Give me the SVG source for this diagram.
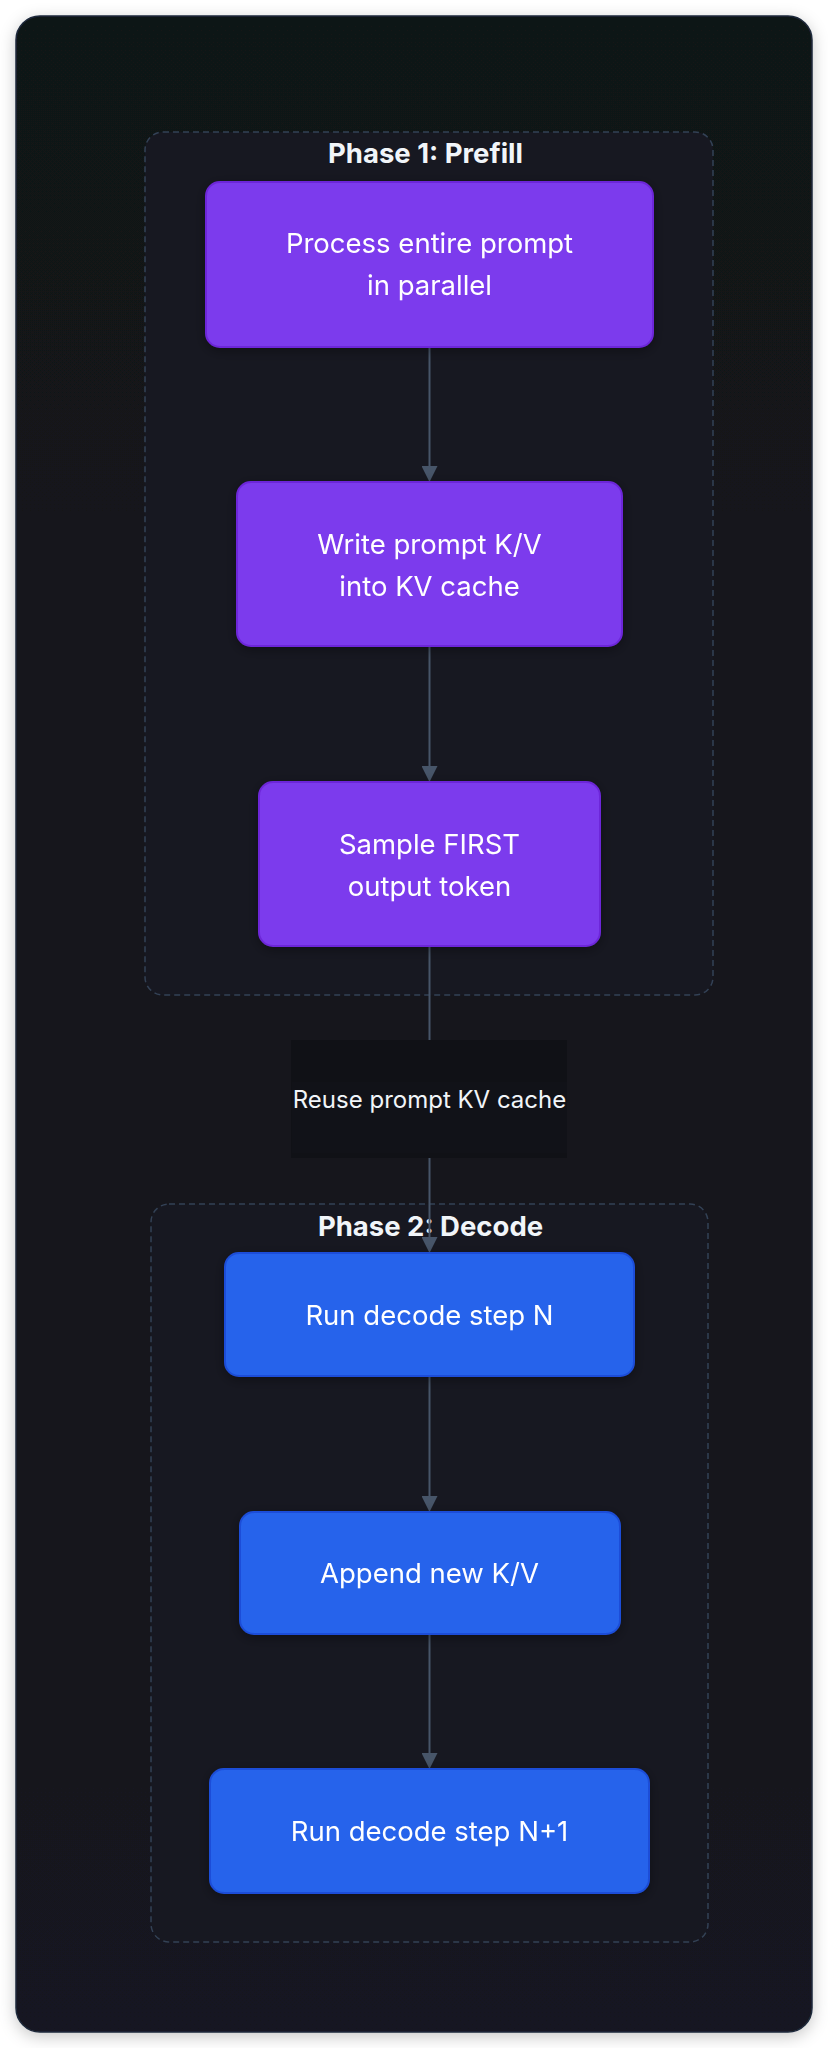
<svg xmlns="http://www.w3.org/2000/svg" width="828" height="2048" viewBox="0 0 828 2048">
  <style>
    .cluster { fill: #171821; stroke: #334155; stroke-width: 1.5; stroke-dasharray: 6 4; }
    .ctitle { font-family: Inter, "Liberation Sans", sans-serif; font-size: 27.5px; font-weight: 700; fill: #f1f5f9; text-anchor: middle; }
    .ntext { font-family: Inter, "Liberation Sans", sans-serif; font-size: 27.5px; font-weight: 400; fill: #ffffff; text-anchor: middle; }
    .purple { fill: #7c3aed; stroke: #6d28d9; stroke-width: 2; }
    .blue { fill: #2563eb; stroke: #1d4ed8; stroke-width: 2; }
    .edge { stroke: #475569; stroke-width: 2; fill: none; }
    .elabel { font-family: Inter, "Liberation Sans", sans-serif; font-size: 24px; fill: #f1f5f9; text-anchor: middle; }
  </style>
  <defs>
    <linearGradient id="cardGrad" x1="0" y1="0" x2="0" y2="1">
      <stop offset="0" stop-color="#111318"/>
      <stop offset="1" stop-color="#161720"/>
    </linearGradient>
    <filter id="cardShadow" x="-10%" y="-5%" width="120%" height="110%">
      <feDropShadow dx="0" dy="4" stdDeviation="8" flood-color="#000000" flood-opacity="0.22"/>
    </filter>
    <filter id="nodeShadow" x="-20%" y="-30%" width="140%" height="160%">
      <feDropShadow dx="0" dy="3" stdDeviation="6" flood-color="#000000" flood-opacity="0.35"/>
    </filter>
    <marker id="arrow" markerUnits="userSpaceOnUse" markerWidth="16" markerHeight="16" refX="2" refY="8" orient="auto">
      <path d="M0,0 L16,8 L0,16 z" fill="#475569"/>
    </marker>
  </defs>

  <rect x="0" y="0" width="828" height="2048" fill="#ffffff"/>
  <rect id="card" x="16" y="16" width="796" height="2016" rx="24" ry="24" fill="url(#cardGrad)" stroke="#1e293b" stroke-width="1.5" filter="url(#cardShadow)"/>

  <g id="phase1">
    <rect class="cluster" x="145" y="132" width="568" height="863" rx="18" ry="18"/>
    <text class="ctitle" x="425.5" y="163">Phase 1: Prefill</text>
  </g>
  <g id="phase2">
    <rect class="cluster" x="151" y="1204" width="557" height="738" rx="18" ry="18"/>
    <text class="ctitle" x="430.5" y="1236">Phase 2: Decode</text>
  </g>

  <g id="connectors">
    <line class="edge" x1="429.5" y1="347" x2="429.5" y2="468" marker-end="url(#arrow)"/>
    <line class="edge" x1="429.5" y1="646" x2="429.5" y2="768" marker-end="url(#arrow)"/>
    <line class="edge" x1="429.5" y1="946" x2="429.5" y2="1239" marker-end="url(#arrow)"/>
    <line class="edge" x1="429.5" y1="1376" x2="429.5" y2="1498" marker-end="url(#arrow)"/>
    <line class="edge" x1="429.5" y1="1634" x2="429.5" y2="1755" marker-end="url(#arrow)"/>
    <g id="edge-label">
      <rect x="291" y="1040" width="276" height="118" fill="#101116"/>
      <rect x="292" y="1082" width="275" height="71" fill="#111218"/>
      <text class="elabel" x="429.5" y="1107.5">Reuse prompt KV cache</text>
    </g>
  </g>

  <g id="node-process" filter="url(#nodeShadow)">
    <rect class="purple" x="206" y="182" width="447" height="165" rx="14" ry="14"/>
    <text class="ntext" x="429.5" y="253">Process entire prompt</text>
    <text class="ntext" x="429.5" y="294.5">in parallel</text>
  </g>
  <g id="node-write" filter="url(#nodeShadow)">
    <rect class="purple" x="237" y="482" width="385" height="164" rx="14" ry="14"/>
    <text class="ntext" x="429.5" y="553.5">Write prompt K/V</text>
    <text class="ntext" x="429.5" y="595.5">into KV cache</text>
  </g>
  <g id="node-sample" filter="url(#nodeShadow)">
    <rect class="purple" x="259" y="782" width="341" height="164" rx="14" ry="14"/>
    <text class="ntext" x="429.5" y="853.5">Sample FIRST</text>
    <text class="ntext" x="429.5" y="895.5">output token</text>
  </g>
  <g id="node-decodeN" filter="url(#nodeShadow)">
    <rect class="blue" x="225" y="1253" width="409" height="123" rx="14" ry="14"/>
    <text class="ntext" x="429.5" y="1324.5">Run decode step N</text>
  </g>
  <g id="node-append" filter="url(#nodeShadow)">
    <rect class="blue" x="240" y="1512" width="380" height="122" rx="14" ry="14"/>
    <text class="ntext" x="429.5" y="1583">Append new K/V</text>
  </g>
  <g id="node-decodeN1" filter="url(#nodeShadow)">
    <rect class="blue" x="210" y="1769" width="439" height="124" rx="14" ry="14"/>
    <text class="ntext" x="429.5" y="1841">Run decode step N+1</text>
  </g>
</svg>
